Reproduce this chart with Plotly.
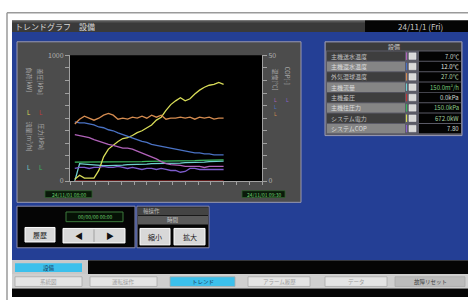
import plotly.graph_objects as go

W, H = 468, 304

# ---------------- data ----------------
minutes = list(range(0, 94, 3))  # 32 samples

supply_temp = [18.5, 18.1, 17.7, 17.3, 16.5, 15.8, 15.0, 14.6, 14.2, 13.5, 13.1, 13.1, 12.7, 11.9, 11.2, 10.4,
               9.6, 8.8, 7.7, 6.9, 6.5, 6.5, 6.2, 5.8, 5.8, 5.8, 5.8, 5.4, 5.8, 5.8, 5.8, 5.8]
return_temp = [23.5, 23.1, 23.1, 22.7, 22.3, 21.5, 21.2, 20.4, 20.0, 19.2, 18.5, 18.1, 17.3, 16.5, 15.8, 15.4,
               14.6, 14.2, 13.8, 13.5, 13.1, 12.7, 12.3, 11.9, 11.5, 11.2, 11.2, 10.8, 10.8, 10.4, 10.4, 10.4]
wetbulb_temp = [22.7, 24.6, 25.8, 25.0, 24.2, 25.0, 26.2, 26.9, 26.2, 24.6, 25.0, 24.6, 25.4, 25.0, 25.8, 25.0,
                26.2, 25.4, 26.2, 24.6, 25.0, 25.0, 25.4, 25.0, 25.4, 24.6, 25.4, 25.0, 25.4, 24.6, 25.0, 25.0]
flow = [0, 138, 135, 131, 131, 127, 123, 123, 123, 127, 127, 131, 131, 131, 135, 135,
        138, 138, 138, 138, 142, 142, 142, 146, 146, 146, 150, 150, 154, 154, 158, 158]
diff_press = [0] * 32
supply_press = [150, 150, 150, 152, 150, 150, 152, 150, 152, 152, 154, 152, 154, 154, 154, 156,
                156, 156, 158, 158, 158, 160, 160, 160, 162, 162, 164, 164, 165, 166, 167, 169]
sys_power = [15, 46, 23, 23, 23, 85, 192, 254, 285, 315, 338, 346, 362, 385, 400, 423,
             446, 485, 508, 562, 608, 638, 662, 638, 654, 692, 723, 746, 762, 769, 785, 769]
sys_cop = [5.0, 5.4, 5.4, 5.0, 5.4, 5.4, 5.8, 5.4, 5.4, 5.8, 5.4, 5.0, 5.4, 5.0, 4.6, 5.0,
           5.0, 4.6, 5.0, 4.6, 4.2, 4.2, 3.5, 3.8, 5.0, 5.0, 4.6, 4.6, 4.6, 4.6, 4.6, 4.6]

left_ticks = list(range(0, 1001, 100))
left_labels = ["0"] + [""] * 9 + ["1000"]
right_ticks = list(range(0, 51, 5))
right_labels = ["0"] + [""] * 9 + ["50"]

table_labels = ["主機送水温度", "主機還水温度", "外気湿球温度", "主機流量",
                "主機差圧", "主機往圧力", "システム電力", "システムCOP"]
table_values = ["7.0℃", "12.0℃", "27.0℃", "150.0m³/h", "0.0kPa", "150.0kPa", "672.0kW", "7.80"]
table_colors = ["#b062b8", "#4a72c4", "#d58c50", "#6fd0d0", "#c03838", "#3cb860", "#d8dc58", "#8a62cc"]
value_colors = ["#d0d8d0", "#e0e8e0", "#b8dcb0", "#7ccc7c", "#d0d8d0", "#8ccc8c", "#a8d4a0", "#d0d8d0"]

nav_labels = ["系統図", "運転操作", "トレンド", "アラーム履歴", "データ", "故障リセット"]

FONT = "Noto Sans CJK JP, sans-serif"

# ---------------- helpers ----------------
shapes = []
annots = []


def fx(x):
    return x / W


def fy(y):
    return 1 - y / H


def rect(x0, y0, x1, y1, fill, line=None, lw=0):
    shapes.append(dict(type="rect", xref="paper", yref="paper", layer="below",
                       x0=fx(x0), x1=fx(x1), y0=fy(y1), y1=fy(y0),
                       fillcolor=fill, line=dict(color=line or fill, width=lw)))


def hline(x0, x1, y, color, lw=1):
    shapes.append(dict(type="line", xref="paper", yref="paper", layer="below",
                       x0=fx(x0), x1=fx(x1), y0=fy(y), y1=fy(y), line=dict(color=color, width=lw)))


def vline(x, y0, y1, color, lw=1, layer="below"):
    shapes.append(dict(type="line", xref="paper", yref="paper", layer=layer,
                       x0=fx(x), x1=fx(x), y0=fy(y0), y1=fy(y1), line=dict(color=color, width=lw)))


def text(x, y, s, size=7, color="#cccccc", xa="center", angle=0):
    annots.append(dict(x=fx(x), y=fy(y), xref="paper", yref="paper", text=s, showarrow=False,
                       xanchor=xa, yanchor="middle", textangle=angle,
                       font=dict(size=size, color=color, family=FONT), borderpad=0))


# ---------------- frame ----------------
hline(7, 468, 7, "#9a9a9a", 1.5)
vline(7, 7, 304, "#9a9a9a", 1.5)
rect(12, 15, 468, 27, "#3a3a3a")
rect(12, 15, 468, 17, "#555555")
rect(365, 15, 468, 27, "#050505")
text(14, 21.5, "トレンドグラフ　設備", 8, "#d8d8d8", "left")
text(420, 21.5, "24/11/1 (Fri)", 8, "#c8c8c8")
rect(12, 27, 468, 263, "#243f95")

# chart panel
rect(17, 37, 301, 203, "#4c4c4c", "#9a9ab0", 1)
rect(70, 51, 262, 181, "#000000")
rect(45, 191, 92, 198, "#0a1a0a", "#2f5f2f", 0.8)
text(68.5, 194.5, "24/11/01 08:00", 5, "#6fcf6f")
rect(242, 191, 285, 198, "#0a1a0a", "#2f5f2f", 0.8)
text(263.5, 194.5, "24/11/01 09:30", 5, "#6fcf6f")

# axis titles (vertical)
text(29, 76, "負荷[kW]", 6, "#a8a8a8", angle=90)
text(41, 78, "差圧[kPa]", 6, "#a8a8a8", angle=90)
text(29, 110, "L", 6, "#d8dc58")
text(41, 110, "L", 6, "#c03838")
text(29, 135, "流量[m³/h]", 6, "#a8a8a8", angle=90)
text(41, 135, "圧力[kPa]", 6, "#a8a8a8", angle=90)
text(29, 167, "L", 6, "#6fd0d0")
text(41, 167, "L", 6, "#3cb860")
text(275, 76, "温度[℃]", 6, "#a8a8a8", angle=90)
text(287, 72, "COP[-]", 6, "#a8a8a8", angle=90)
text(275, 97, "L", 5, "#b062b8")
text(275, 104, "L", 5, "#4a72c4")
text(275, 111, "L", 5, "#d58c50")
text(287, 97, "L", 5, "#8a62cc")

# table panel
rect(325, 37, 462, 134, "#5a5a66", "#9a9ab0", 1)
rect(326, 38, 461, 46, "#3c3c3c")
text(394, 42, "設備", 6, "#c8c8c8")
row_h = 10.7
for i, (lab, val) in enumerate(zip(table_labels, table_values)):
    y0 = 47 + i * row_h
    y1 = y0 + row_h - 1
    rect(327, y0, 405, y1, "#3e3e3e" if i % 2 == 0 else "#858585")
    text(330, (y0 + y1) / 2, lab, 6, "#c0c0c0" if i % 2 == 0 else "#dcdcdc", "left")
    vline(406.5, y0 + 1, y1 - 1, table_colors[i], 1.2)
    rect(409, y0 + 1.5, 416, y1 - 1.5, "#d8d8d8", "#f0f0f0", 0.5)
    rect(419, y0, 461, y1, "#030303")
    text(460, (y0 + y1) / 2, val, 6, value_colors[i], "right")

# control panel
rect(17, 207, 135, 250, "#050505", "#8a8aa8", 1)
rect(66, 213, 123, 223, "#061206", "#3c7a3c", 1)
text(94.5, 218, "00/00/00 00:00", 5, "#6fcf6f")
rect(25, 229, 55, 244, "#d8d8d8", "#ffffff", 1)
text(40, 236.5, "履歴", 7, "#202020")
rect(63, 230, 125, 245, "#d8d8d8", "#ffffff", 1)
vline(94, 231, 244, "#a0a0a0", 1, "below")
text(78.5, 237.5, "◀", 8, "#101010")
text(109.5, 237.5, "▶", 8, "#101010")

rect(137, 207, 209, 250, "#050505", "#8a8aa8", 1)
rect(138, 208, 208, 216, "#444444")
text(142, 212, "軸操作", 5.5, "#b8b8b8", "left")
rect(138, 217, 208, 226, "#5a5a5a")
text(173, 221.5, "時間", 5.5, "#c8c8c8")
rect(140, 230, 170, 247, "#d8d8d8", "#ffffff", 1)
text(155, 238.5, "縮小", 7, "#202020")
rect(174, 230, 205, 247, "#d8d8d8", "#ffffff", 1)
text(189.5, 238.5, "拡大", 7, "#202020")

# bottom nav
rect(12, 263, 88, 277, "#c8c8c8")
rect(15, 266, 82, 275, "#3cc0ec")
text(48.5, 270.5, "設備", 5.5, "#1a3a5a")
rect(88, 263, 468, 277, "#050505")
rect(12, 277, 468, 292, "#cfcfcf")
nav_x = [(15, 82), (90, 157), (170, 235), (248, 310), (325, 387), (395, 465)]
for (a, b), lab in zip(nav_x, nav_labels):
    if lab == "トレンド":
        fill, tc = "#3cc0ec", "#1a3a5a"
    elif lab == "故障リセット":
        fill, tc = "#bcbcbc", "#404040"
    else:
        fill, tc = "#e4e4e4", "#a0a0a0"
    rect(a, 280, b, 290, fill, "#a8a8a8", 0.8)
    text((a + b) / 2, 285, lab, 5.5, tc)
rect(12, 292, 468, 301, "#050505")

# ---------------- traces ----------------
fig = go.Figure()
series_left = [
    ("主機流量", flow, "#6fd0d0"),
    ("主機差圧", diff_press, "#c03838"),
    ("主機往圧力", supply_press, "#3cb860"),
    ("システム電力", sys_power, "#d8dc58"),
]
series_right = [
    ("主機送水温度", supply_temp, "#b062b8"),
    ("主機還水温度", return_temp, "#4a72c4"),
    ("外気湿球温度", wetbulb_temp, "#d58c50"),
    ("システムCOP", sys_cop, "#7d5ccc"),
]
for name, vals, col in series_right:
    fig.add_trace(go.Scatter(x=minutes, y=vals, name=name, mode="lines", yaxis="y2",
                             line=dict(color=col, width=1.3)))
for name, vals, col in series_left:
    fig.add_trace(go.Scatter(x=minutes, y=vals, name=name, mode="lines", yaxis="y",
                             line=dict(color=col, width=1.3)))

axcol = "#a0a0a0"
fig.update_layout(
    width=W, height=H, margin=dict(l=0, r=0, t=0, b=0),
    paper_bgcolor="#ffffff", plot_bgcolor="rgba(0,0,0,0)",
    showlegend=False, shapes=shapes, annotations=annots,
    font=dict(family=FONT),
    xaxis=dict(domain=[fx(70), fx(262)], range=[-3, 117], showgrid=False, zeroline=False,
               showline=True, linecolor=axcol, linewidth=1, ticks="outside", ticklen=3,
               tickcolor=axcol, tick0=-3, dtick=8, showticklabels=False, fixedrange=True),
    yaxis=dict(domain=[fy(181), fy(51)], range=[0, 1000], showgrid=False, zeroline=False,
               showline=True, linecolor=axcol, linewidth=1, ticks="outside", ticklen=4,
               tickcolor=axcol, tickvals=left_ticks, ticktext=left_labels,
               tickfont=dict(size=7, color="#b0b0b0"), fixedrange=True),
    yaxis2=dict(overlaying="y", side="right", anchor="x", range=[0, 50], showgrid=False,
                zeroline=False, showline=True, linecolor=axcol, linewidth=1, ticks="outside",
                ticklen=4, tickcolor=axcol, tickvals=right_ticks, ticktext=right_labels,
                tickfont=dict(size=7, color="#b0b0b0"), fixedrange=True),
)

fig.write_html("out.html", config={"displayModeBar": False},
               post_script="document.body.style.margin='0';document.body.style.overflow='hidden';")
